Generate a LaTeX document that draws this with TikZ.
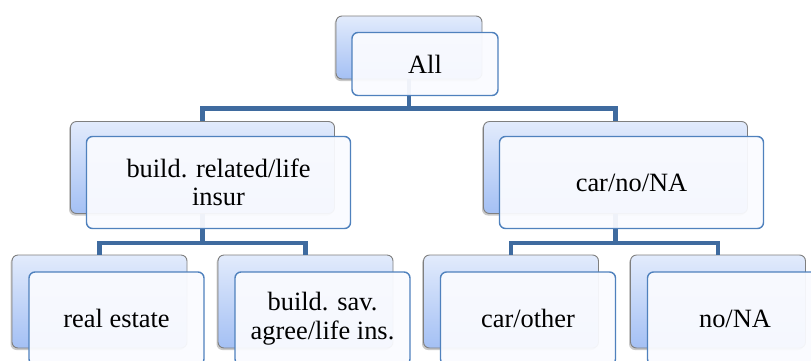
\documentclass[tikz,border=0pt]{standalone}
\usepackage{fontspec}
\setmainfont{Liberation Serif}
\newfontfamily\labelfont{Liberation Serif}
\usetikzlibrary{shadows}
\definecolor{linkblue}{HTML}{3F6B9F}
\definecolor{backtop}{HTML}{E2EBFC}
\definecolor{backbot}{HTML}{A4C0F4}
\definecolor{backedge}{HTML}{7F7F7F}
\definecolor{frontedge}{HTML}{4F81BD}
\definecolor{frontfill}{HTML}{FAFBFF}
\tikzset{
  backbox/.style={draw=backedge, line width=0.9pt, rounded corners=6pt,
    top color=backtop, bottom color=backbot, inner sep=0pt,
    drop shadow={shadow xshift=-1.5pt, shadow yshift=-2pt, opacity=0.35, fill=black!60}},
  frontbox/.style={draw=frontedge, line width=1.4pt, rounded corners=6pt,
    fill=frontfill, fill opacity=0.94, text opacity=1, inner sep=0pt,
    align=center, font=\labelfont\fontsize{26.4}{28.5}\selectfont},
  link/.style={draw=linkblue, line width=4.6pt},
  big/.style={minimum width=264pt, minimum height=92pt},
  small/.style={minimum width=175pt, minimum height=93pt},
}
\begin{document}
\begin{tikzpicture}[x=1pt,y=-1pt]
\useasboundingbox (0,0) rectangle (811,360);
\clip (0,0) rectangle (811,360);
\fill[white] (0,0) rectangle (811,360);

% row heights of the two connector bars
\coordinate (barA) at (0,108.5);
\coordinate (barB) at (0,243);

% back layer of every entry
\node[backbox, minimum width=146pt, minimum height=63pt] (rootB) at (409,47.5) {};
\node[backbox, big] (leftB)  at (202.5,167.5) {};
\node[backbox, big] (rightB) at (615.5,167.5) {};
\node[backbox, small] (reB)  at (99.5,301.5) {};
\node[backbox, small] (bsB)  at (305.5,301.5) {};
\node[backbox, small] (coB)  at (511,301.5) {};
\node[backbox, small] (naB)  at (718,301.5) {};

% connectors
\draw[link] (rootB.south) -- (rootB.south |- barA) -| (leftB.north);
\draw[link] (rootB.south |- barA) -| (rightB.north);
\draw[link] (leftB.south) -- (leftB.south |- barB) -| (reB.north);
\draw[link] (leftB.south |- barB) -| (bsB.north);
\draw[link] (rightB.south) -- (rightB.south |- barB) -| (coB.north);
\draw[link] (rightB.south |- barB) -| (naB.north);

% front layer with the labels
\node[frontbox, minimum width=146pt, minimum height=63pt] (rootF) at (425,64) {All};
\node[frontbox, big] (leftF)  at (218.5,182.5) {build. related/life\\insur};
\node[frontbox, big] (rightF) at (631.5,182.5) {car/no/NA};
\node[frontbox, small] (reF) at (116.5,318.5) {real estate};
\node[frontbox, small] (bsF) at (322.5,318.5) {build. sav.\\agree/life ins.};
\node[frontbox, small] (coF) at (528,318.5) {car/other};
\node[frontbox, small] (naF) at (735,318.5) {no/NA};
\end{tikzpicture}
\end{document}
